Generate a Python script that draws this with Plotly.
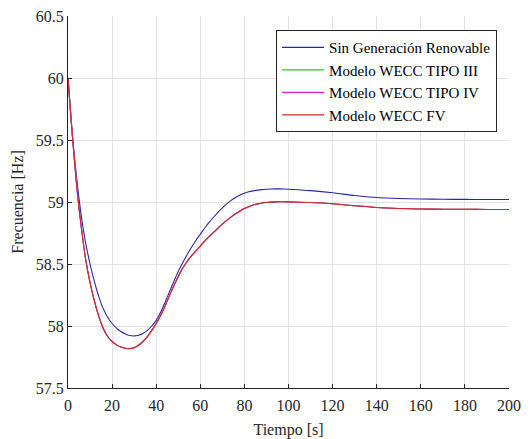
import plotly.graph_objects as go

# Time samples [s]: every 2 s up to 100 s, then every 10 s
tiempo = [0, 2, 4, 6, 8, 10, 12, 14, 16, 18, 20, 22, 24, 26, 28, 30, 32, 34, 36, 38,
          40, 42, 44, 46, 48, 50, 52, 54, 56, 58, 60, 62, 64, 66, 68, 70, 72, 74, 76, 78,
          80, 82, 84, 86, 88, 90, 92, 94, 96, 98, 100,
          110, 120, 130, 140, 150, 160, 170, 180, 190, 200]

# Frequency [Hz] without renewable generation
f_sin_renovable = [60.00, 59.54, 59.18, 58.89, 58.67, 58.50, 58.355, 58.235, 58.14, 58.07,
                   58.02, 57.983, 57.955, 57.935, 57.923, 57.92, 57.925, 57.94, 57.965, 58.00,
                   58.045, 58.11, 58.19, 58.275, 58.36, 58.44, 58.51, 58.575, 58.635, 58.69,
                   58.74, 58.79, 58.835, 58.877, 58.917, 58.952, 58.985, 59.013, 59.037, 59.056,
                   59.071, 59.082, 59.09, 59.096, 59.1, 59.103, 59.105, 59.106, 59.106, 59.105,
                   59.103,
                   59.092, 59.075, 59.052, 59.036, 59.028, 59.024, 59.022, 59.021, 59.02, 59.02]

# Frequency [Hz] with the WECC renewable models
f_tipo_iii = [60.00, 59.53, 59.12, 58.80, 58.54, 58.35, 58.20, 58.075, 57.98, 57.915,
              57.875, 57.848, 57.83, 57.82, 57.818, 57.825, 57.845, 57.875, 57.915, 57.965,
              58.02, 58.085, 58.16, 58.245, 58.325, 58.40, 58.465, 58.52, 58.565, 58.605,
              58.645, 58.685, 58.72, 58.755, 58.79, 58.822, 58.852, 58.88, 58.905, 58.928,
              58.947, 58.962, 58.975, 58.985, 58.992, 58.996, 58.999, 59.001, 59.002, 59.002,
              59.001,
              58.996, 58.986, 58.97, 58.956, 58.948, 58.944, 58.942, 58.941, 58.94, 58.94]
f_tipo_iv = [60.00, 59.53, 59.12, 58.80, 58.54, 58.35, 58.20, 58.075, 57.98, 57.915,
             57.875, 57.848, 57.83, 57.82, 57.818, 57.825, 57.845, 57.875, 57.915, 57.965,
             58.02, 58.085, 58.16, 58.245, 58.325, 58.40, 58.465, 58.52, 58.565, 58.605,
             58.645, 58.685, 58.72, 58.755, 58.79, 58.822, 58.852, 58.88, 58.905, 58.928,
             58.947, 58.962, 58.975, 58.985, 58.992, 58.996, 58.999, 59.001, 59.002, 59.002,
             59.001,
             58.996, 58.986, 58.97, 58.956, 58.948, 58.944, 58.942, 58.941, 58.94, 58.94]
f_fv = [60.00, 59.53, 59.12, 58.80, 58.54, 58.35, 58.20, 58.075, 57.98, 57.915,
        57.875, 57.848, 57.83, 57.82, 57.818, 57.825, 57.845, 57.875, 57.915, 57.965,
        58.02, 58.085, 58.16, 58.245, 58.325, 58.40, 58.465, 58.52, 58.565, 58.605,
        58.645, 58.685, 58.72, 58.755, 58.79, 58.822, 58.852, 58.88, 58.905, 58.928,
        58.947, 58.962, 58.975, 58.985, 58.992, 58.996, 58.999, 59.001, 59.002, 59.002,
        59.001,
        58.996, 58.986, 58.97, 58.956, 58.948, 58.944, 58.942, 58.941, 58.94, 58.94]

series = [
    ("Sin Generación Renovable", f_sin_renovable, "#2626b4"),
    ("Modelo WECC TIPO III", f_tipo_iii, "#22cc22"),
    ("Modelo WECC TIPO IV", f_tipo_iv, "#e022e0"),
    ("Modelo WECC FV", f_fv, "#d42a2a"),
]

x_ticks = [0, 20, 40, 60, 80, 100, 120, 140, 160, 180, 200]
y_ticks = [57.5, 58, 58.5, 59, 59.5, 60, 60.5]

FONT = "Times New Roman, Liberation Serif, DejaVu Serif, serif"

fig = go.Figure()
for name, values, color in series:
    fig.add_trace(go.Scatter(
        x=tiempo, y=values, name=name, mode="lines",
        line=dict(color=color, width=1.1, shape="spline", smoothing=0.8),
    ))

axis_common = dict(
    showgrid=True, gridcolor="#e3e3e3", gridwidth=1,
    showline=True, linecolor="#262626", linewidth=1,
    ticks="inside", ticklen=4, tickcolor="#262626",
    tickfont=dict(family=FONT, size=16, color="#262626"),
    zeroline=False, mirror=False, automargin=False,
)

fig.update_xaxes(
    range=[0, 200], tickvals=x_ticks, ticktext=[str(v) for v in x_ticks],
    title=dict(text="Tiempo [s]", font=dict(family=FONT, size=16, color="#262626"), standoff=10),
    ticklabelstandoff=3,
    **axis_common,
)
fig.update_yaxes(
    range=[57.5, 60.5], tickvals=y_ticks, ticktext=[f"{v:g}" for v in y_ticks],
    title=dict(text="Frecuencia [Hz]", font=dict(family=FONT, size=16, color="#262626"), standoff=8),
    **axis_common,
)

fig.update_layout(
    width=530, height=439,
    margin=dict(l=68, r=21, t=16, b=51),
    paper_bgcolor="white", plot_bgcolor="white",
    font=dict(family=FONT, size=16, color="#000000"),
    showlegend=True,
    legend=dict(
        x=0.973, y=0.962, xanchor="right", yanchor="top",
        bgcolor="white", bordercolor="#262626", borderwidth=1,
        font=dict(family=FONT, size=15, color="#000000"),
        itemwidth=42, tracegroupgap=0,
    ),
)

fig.write_html("out.html")
